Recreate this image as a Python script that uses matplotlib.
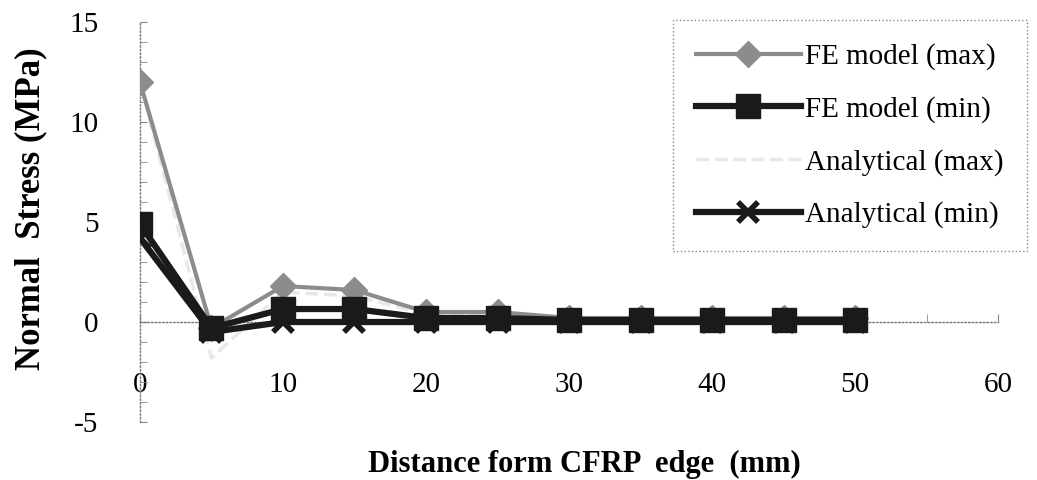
import numpy as np
import matplotlib.pyplot as plt
from matplotlib.ticker import MultipleLocator

# distance from CFRP edge (mm)
distance = [0, 5, 10, 15, 20, 25, 30, 35, 40, 45, 50]

# normal stress (MPa)
fe_max = [12.0, -0.3, 1.8, 1.6, 0.5, 0.5, 0.2, 0.2, 0.2, 0.2, 0.2]
fe_min = [4.9, -0.3, 0.65, 0.65, 0.2, 0.2, 0.1, 0.1, 0.1, 0.1, 0.1]
an_max = [12.0, -1.8, 1.5, 1.3, 0.4, 0.4, 0.1, 0.1, 0.1, 0.1, 0.1]
an_min = [4.2, -0.5, 0.0, 0.0, 0.0, 0.0, 0.0, 0.0, 0.0, 0.0, 0.0]

plt.rcParams['font.family'] = ['Liberation Serif', 'DejaVu Serif']

fig = plt.figure(figsize=(10.37, 4.8), dpi=100)
ax = fig.add_axes([0.135, 0.1208, 0.8274, 0.8333])

ax.plot(distance, an_max, color='#e8e8e8', linewidth=2.5, linestyle='--',
        label='Analytical (max)', zorder=2)
ax.plot(distance, fe_max, color='#8c8c8c', linewidth=3, marker='D', markersize=13,
        label='FE model (max)', zorder=3)
ax.plot(distance, fe_min, color='#1a1a1a', linewidth=4.5, marker='s', markersize=17,
        label='FE model (min)', zorder=4)
ax.plot(distance, an_min, color='#1a1a1a', linewidth=4.5, marker='x', markersize=14,
        markeredgewidth=4, label='Analytical (min)', zorder=5)

ax.set_xlim(0, 60)
ax.set_ylim(-5, 15)
ax.spines['top'].set_visible(False)
ax.spines['right'].set_visible(False)
ax.spines['left'].set_position(('data', 0))
ax.spines['bottom'].set_position(('data', 0))
for s in ('left', 'bottom'):
    ax.spines[s].set_linestyle(':')
    ax.spines[s].set_color('#777777')
    ax.spines[s].set_linewidth(1.0)

ax.xaxis.set_major_locator(MultipleLocator(10))
ax.xaxis.set_minor_locator(MultipleLocator(5))
ax.yaxis.set_major_locator(MultipleLocator(5))
ax.yaxis.set_minor_locator(MultipleLocator(1))
ax.tick_params(axis='x', which='both', direction='in', length=6, color='#888888',
               labelsize=21, pad=36)
ax.tick_params(axis='y', which='both', direction='in', length=5, color='#888888',
               labelsize=21, pad=30)
ax.set_xticks([0, 10, 20, 30, 40, 50, 60])
ax.set_xticklabels(['0', '10', '20', '30', '40', '50', '60'])
ax.set_yticks([-5, 0, 5, 10, 15])
ax.set_yticklabels(['-5', '0', '5', '10', '15'])

fig.text(0.564, 0.032, 'Distance form CFRP  edge  (mm)', ha='center', va='center',
         fontsize=22, fontweight='bold')
fig.text(0.03, 0.565, 'Normal  Stress (MPa)', ha='center', va='center',
         rotation=90, fontsize=25, fontweight='bold')

handles, labels = ax.get_legend_handles_labels()
order = [1, 2, 0, 3]
leg = ax.legend([handles[i] for i in order], [labels[i] for i in order],
                loc='upper right', bbox_to_anchor=(1.034, 1.005), borderaxespad=0,
                fontsize=21, handlelength=3.6, labelspacing=0.88, borderpad=0.8,
                handletextpad=0.15, fancybox=False, framealpha=1)
leg.get_frame().set_edgecolor('#888888')
leg.get_frame().set_linestyle(':')
leg.get_frame().set_linewidth(1.0)

fig.savefig('out.png', dpi=100)
